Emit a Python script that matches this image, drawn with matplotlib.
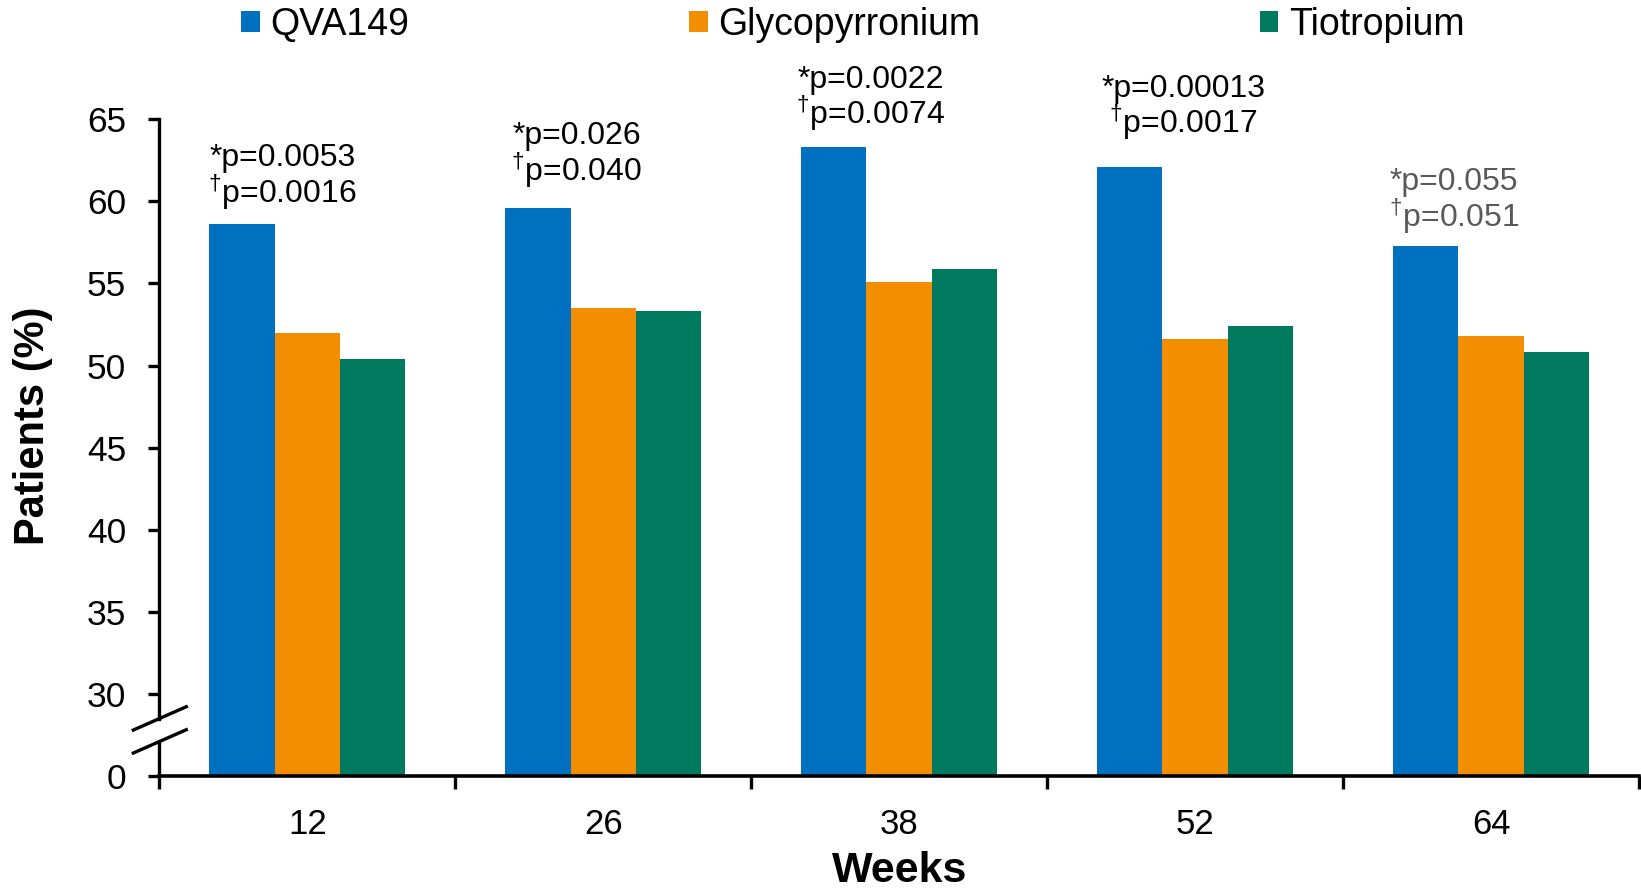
import matplotlib.pyplot as plt
import matplotlib.transforms as mtransforms
import numpy as np
from matplotlib.patches import Patch

plt.rcParams['font.family'] = ['Liberation Sans', 'DejaVu Sans']
plt.rcParams['mathtext.fontset'] = 'custom'
plt.rcParams['mathtext.rm'] = 'Liberation Sans'

# data
weeks = ['12', '26', '38', '52', '64']
qva149 = [58.6, 59.6, 63.3, 62.1, 57.3]
glyco = [52.0, 53.5, 55.1, 51.6, 51.8]
tiotropium = [50.4, 53.3, 55.9, 52.4, 50.8]
p_vs_glyco = ['0.0053', '0.026', '0.0022', '0.00013', '0.055']
p_vs_tio = ['0.0016', '0.040', '0.0074', '0.0017', '0.051']

series = ['QVA149', 'Glycopyrronium', 'Tiotropium']
colors = ['#0070C0', '#F28E00', '#007A5E']

# annotation placement (x offset from group centre, baseline of first line in data units)
ann_dx = [-0.083, -0.09, -0.097, -0.04, -0.125]
ann_y = [62.13, 63.47, 66.91, 66.34, 60.67]
ann_color = ['black', 'black', 'black', 'black', '#595959']
line_gap = 2.2

y_floor = 25  # the "0" tick sits here, below the axis break

fig = plt.figure(figsize=(16.41, 8.93), dpi=100)
ax = fig.add_axes([0.0971, 0.131, 0.9017, 0.7354])

x = np.arange(len(weeks))
w = 0.221
for i, (vals, col) in enumerate(zip([qva149, glyco, tiotropium], colors)):
    ax.bar(x + (i - 1) * w, vals, width=w, color=col, linewidth=0)

for i in range(len(weeks)):
    ax.text(x[i] + ann_dx[i], ann_y[i], '*p=' + p_vs_glyco[i], ha='center',
            va='baseline', fontsize=23, color=ann_color[i])
    ax.text(x[i] + ann_dx[i], ann_y[i] - line_gap,
            r'$^{\mathrm{†}}$' + 'p=' + p_vs_tio[i], ha='center',
            va='baseline', fontsize=23, color=ann_color[i])

ax.set_xlim(-0.5, len(weeks) - 0.5)
ax.set_ylim(y_floor, 65)

# y ticks
ax.set_yticks([y_floor] + list(range(30, 66, 5)))
ax.set_yticklabels(['0'] + [str(v) for v in range(30, 66, 5)])
ax.tick_params(axis='y', direction='out', length=8, width=2.4, pad=16, labelsize=25.5)

# x ticks: boundaries as major ticks, labels on minor ticks
ax.set_xticks(np.arange(-0.5, len(weeks), 1.0))
ax.set_xticklabels([])
ax.set_xticks(x, minor=True)
ax.set_xticklabels(weeks, minor=True)
ax.tick_params(axis='x', which='major', direction='out', length=9, width=2.4)
ax.tick_params(axis='x', which='minor', length=0, pad=23, labelsize=25)

for s in ['top', 'right']:
    ax.spines[s].set_visible(False)
ax.spines['bottom'].set_linewidth(2.6)
ax.spines['left'].set_linewidth(2.4)

# broken y axis
brk_lo, brk_hi = 27.1, 28.5
ax.spines['left'].set_bounds(brk_hi, 65)
trans = mtransforms.blended_transform_factory(ax.transAxes, ax.transData)
ax.plot([0, 0], [y_floor, brk_lo], transform=trans, color='black', lw=2.4,
        clip_on=False, solid_capstyle='butt')
for yb in [brk_lo, brk_hi]:
    ax.plot([-0.0176, 0.0182], [yb - 0.7, yb + 0.72], transform=trans,
            color='black', lw=2.4, clip_on=False)

ax.set_ylabel('Patients (%)', fontsize=30, fontweight='bold')
ax.yaxis.set_label_coords(-0.072, 0.533)
ax.set_xlabel('Weeks', fontsize=31, fontweight='bold', labelpad=7)

handles = [Patch(facecolor=c, edgecolor='none', label=s) for s, c in zip(series, colors)]
fig.legend(handles=handles, loc='center', bbox_to_anchor=(853 / 1641, 1 - 25 / 893),
           ncol=3, frameon=False, fontsize=27, handlelength=0.5, handleheight=0.5,
           handletextpad=0.28, columnspacing=7.45, borderpad=0)

fig.savefig('out.png', dpi=100)
plt.close(fig)
